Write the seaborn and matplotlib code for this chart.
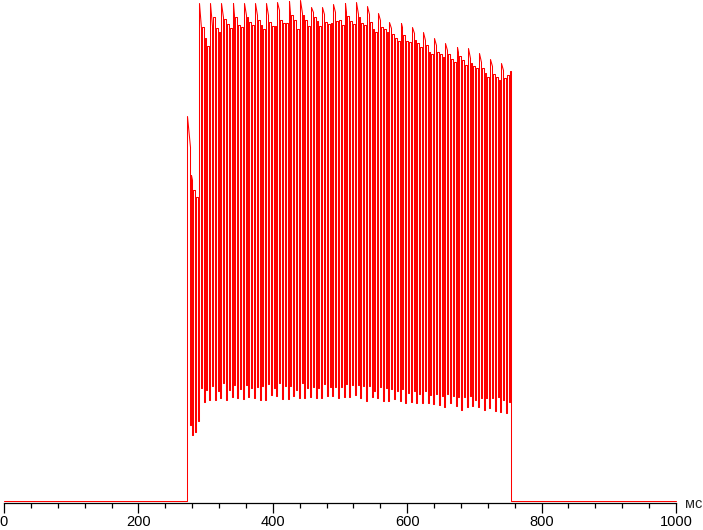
import numpy as np
import pandas as pd
import seaborn as sns
import matplotlib.pyplot as plt
from matplotlib.ticker import MultipleLocator

# brightness in % of maximum
t_on = 272.3        # ms, light switches on
t_off = 755.0       # ms, light switches off
dip_start = 276.8   # ms, first PWM dip
dip_period = 4.167  # ms (240 Hz)
dip_width = 1.5     # ms

# first four PWM periods, before the 60 Hz pattern starts
pre_top_start = [76.8, 65.1, 62.1, 60.7]
pre_top_end = [70.7, 64.1, 62.1, 60.7]

# 60 Hz cycles: spike, then four plateaus between the dips
cycle_peak = [99.4, 99.4, 99.4, 99.4, 99.4, 99.4, 99.4, 99.6, 99.8, 100.0,
              98.6, 98.6, 99.2, 99.4, 99.6, 98.8, 97.4, 95.6, 95.4, 94.6,
              93.6, 92.4, 91.4, 90.6, 90.4, 89.4, 88.2, 87.4]
plateau_1 = [94.4, 94.8, 96.6, 97.0, 97.0, 97.0, 97.0, 98.0, 97.4, 97.4,
             97.6, 97.2, 97.6, 97.6, 97.2, 97.2, 96.0, 94.4, 94.6, 93.4,
             92.0, 91.0, 90.0, 89.6, 88.4, 87.6, 86.8, 86.0]
plateau_2 = [94.6, 96.6, 96.2, 96.6, 96.6, 96.0, 95.6, 96.0, 97.0, 97.0,
             96.6, 95.6, 95.8, 96.8, 96.6, 95.6, 94.6, 93.2, 93.0, 92.0,
             91.0, 89.6, 89.2, 88.8, 87.4, 86.4, 85.2, 84.4]
plateau_3 = [92.4, 94.4, 95.2, 95.0, 95.6, 95.0, 94.8, 95.4, 96.0, 96.0,
             95.8, 95.2, 96.0, 95.8, 95.4, 94.2, 94.2, 92.4, 91.8, 91.4,
             89.6, 89.2, 88.2, 88.0, 86.8, 85.4, 84.6, 85.0]
plateau_4 = [90.8, 93.6, 94.4, 94.6, 95.0, 94.2, 94.8, 95.4, 94.2, 94.8,
             94.8, 95.4, 95.0, 95.2, 95.0, 93.6, 93.6, 91.8, 91.6, 90.6,
             89.2, 88.6, 87.6, 87.0, 86.4, 84.6, 84.0, 85.8]

# bottom of every PWM dip
dip_bottom = [15.2, 13.2, 13.8, 16.0,
              22.6, 19.8, 22.2, 20.2, 23.0, 20.2, 22.0, 20.6, 23.6, 20.2,
              22.2, 20.8, 23.2, 20.6, 22.4, 20.4, 23.2, 20.8, 22.6, 20.6,
              22.8, 20.2, 23.0, 20.2, 23.4, 21.2, 22.6, 21.0, 23.6, 20.4,
              23.0, 20.4, 23.0, 21.0, 22.2, 20.6, 23.6, 20.6, 22.6, 20.8,
              22.8, 20.6, 22.6, 20.6, 23.4, 21.0, 22.8, 21.0, 22.8, 20.6,
              22.8, 20.8, 23.4, 20.8,
              23.2, 21.2, 23.2, 20.6, 23.0, 20.0, 23.0, 20.8, 22.0, 20.6,
              22.8, 20.0, 22.6, 20.0, 22.4, 20.4, 22.0, 20.0, 22.4, 19.6,
              21.6, 19.8, 22.0, 19.6, 21.4, 19.6, 22.0, 19.6, 21.2, 19.4,
              21.4, 19.2, 21.0, 18.8, 21.4, 19.6, 21.0, 19.0, 20.8, 18.2,
              20.8, 18.8, 21.0, 19.0, 20.2, 18.8, 20.6, 18.2, 20.6, 18.6,
              20.6, 18.0, 20.8, 17.8, 20.2, 17.6, 19.8]

# plateau levels of every segment between dips
seg_start = list(pre_top_start)
seg_end = list(pre_top_end)
for c in range(len(cycle_peak)):
    seg_start += [cycle_peak[c], plateau_2[c], plateau_3[c], plateau_4[c]]
    seg_end += [plateau_1[c], plateau_2[c], plateau_3[c], plateau_4[c]]

t = [0, t_on]
v = [0, 0]
n_seg = len(seg_start)
for m in range(n_seg):
    a = t_on if m == 0 else dip_start + (m - 1) * dip_period + dip_width / 2
    b = t_off if m == n_seg - 1 else dip_start + m * dip_period - dip_width / 2
    t += [a, b]
    v += [seg_start[m], seg_end[m]]
    if m < n_seg - 1:
        t += [b, b + dip_width]
        v += [dip_bottom[m], dip_bottom[m]]
t += [t_off, 1000]
v += [0, 0]
trace = pd.DataFrame({'t': t, 'v': v})

sns.set_style('white')
plt.rcParams['font.family'] = ['Liberation Sans', 'DejaVu Sans']

fig = plt.figure(figsize=(7.03, 5.30), dpi=100)
ax = fig.add_axes([4 / 703, 27.5 / 530, 672 / 703, 502.5 / 530])
sns.lineplot(data=trace, x='t', y='v', sort=False, estimator=None,
             color='#ff0000', linewidth=0.75, antialiased=True, snap=True,
             clip_on=False, ax=ax)

ax.set_xlim(0, 1000)
ax.set_ylim(-0.3, 100)
ax.set_xlabel('')
ax.set_ylabel('')
ax.set_yticks([])
for s in ['left', 'right', 'top']:
    ax.spines[s].set_visible(False)
ax.spines['bottom'].set_color('black')
ax.spines['bottom'].set_linewidth(0.9)
ax.set_xticks(range(0, 1001, 200))
ax.xaxis.set_minor_locator(MultipleLocator(40))
ax.tick_params(axis='x', which='major', direction='out', length=7.5, width=0.9,
               color='black', pad=1.5, labelsize=10.5, labelcolor='black', bottom=True)
ax.tick_params(axis='x', which='minor', direction='out', length=3.8, width=0.9,
               color='black', bottom=True)
ax.text(1013, -1.4, 'мс', ha='left', va='baseline', fontsize=10.5, clip_on=False)

fig.savefig('out.png', dpi=100)
